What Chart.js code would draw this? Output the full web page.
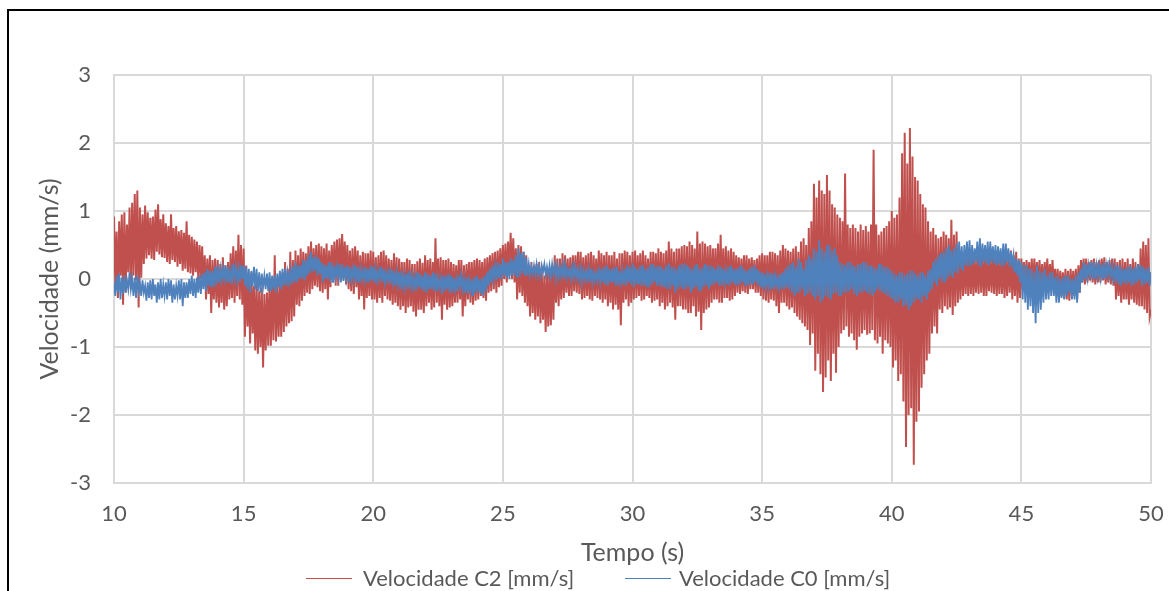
<!DOCTYPE html>
<html>
<head>
<meta charset="utf-8">
<script src="https://cdn.jsdelivr.net/npm/chart.js@4/dist/chart.umd.min.js"></script>
<style>
  html, body { margin: 0; padding: 0; background: #fff; overflow: hidden; }
  #wrap { position: relative; width: 1169px; height: 591px; }
  #frame { position: absolute; left: 7px; top: 9px; width: 1200px; height: 700px; border-left: 2px solid #000; border-top: 2px solid #000; }
  canvas { position: absolute; left: 0; top: 0; }
  .lg { position: absolute; font-family: Lato, "Open Sans", sans-serif; font-size: 22px; color: #595959; line-height: 26px; white-space: nowrap; }
  .ln { position: absolute; height: 1px; width: 46px; }
</style>
</head>
<body>
<div id="wrap">
  <div id="frame"></div>
  <canvas id="c" width="1169" height="591"></canvas>
  <div class="ln" style="left:306px; top:578px; background:#C0504D;"></div>
  <div class="lg" style="left:363px; top:565px;">Velocidade C2 [mm/s]</div>
  <div class="ln" style="left:625px; top:578px; background:#4F81BD;"></div>
  <div class="lg" style="left:679px; top:565px;">Velocidade C0 [mm/s]</div>
</div>
<script>
// Tick labels / axis ranges
const xTicks = [10, 15, 20, 25, 30, 35, 40, 45, 50];
const yTicks = [-3, -2, -1, 0, 1, 2, 3];
const seriesNames = ['Velocidade C2 [mm/s]', 'Velocidade C0 [mm/s]'];

// Velocidade C2 [mm/s], 0.05 s sampling, one row per second (10 s ... 50 s)
const velC2 = [
  0.92, -0.10, 0.70, -0.28, 0.85, 0.05, 0.95, -0.38, 0.98, -0.20, 0.80, 0.10, 1.05, -0.15, 1.12, 0.05, 1.25, -0.02, 1.30, -0.42,
  1.05, 0.02, 0.95, 0.22, 1.08, 0.30, 0.98, 0.35, 0.90, 0.30, 0.92, 0.28, 1.02, 0.40, 1.10, 0.36, 0.88, 0.32, 0.95, 0.31,
  0.82, 0.25, 0.78, 0.22, 0.95, 0.28, 0.75, 0.25, 0.78, 0.18, 0.70, 0.22, 0.72, 0.12, 0.68, 0.15, 0.85, 0.10, 0.65, 0.08,
  0.62, 0.05, 0.58, 0.10, 0.55, -0.02, 0.50, 0.00, 0.48, -0.10, 0.35, -0.30, 0.30, -0.22, 0.35, -0.50, 0.28, -0.30, 0.30, -0.35,
  0.28, -0.42, 0.22, -0.35, 0.32, -0.45, 0.20, -0.40, 0.25, -0.30, 0.38, -0.28, 0.48, -0.35, 0.42, -0.25, 0.65, -0.30, 0.50, -0.38,
  0.45, -0.85, 0.20, -0.70, 0.05, -0.95, 0.10, -0.80, -0.10, -1.05, -0.05, -1.10, -0.18, -1.00, -0.12, -1.30, -0.22, -1.05, -0.20, -0.98,
  -0.05, -0.98, 0.00, -0.90, 0.35, -0.92, -0.08, -0.85, -0.02, -0.85, 0.10, -0.78, 0.25, -0.70, 0.15, -0.65, 0.40, -0.62, 0.28, -0.55,
  0.42, -0.38, 0.35, -0.40, 0.45, -0.32, 0.40, -0.25, 0.38, -0.20, 0.48, -0.22, 0.55, -0.15, 0.45, -0.10, 0.50, -0.12, 0.52, -0.18,
  0.48, -0.20, 0.45, -0.15, 0.52, -0.30, 0.42, -0.12, 0.50, -0.05, 0.55, -0.10, 0.58, -0.10, 0.60, -0.02, 0.66, 0.00, 0.55, -0.08,
  0.50, -0.15, 0.42, -0.18, 0.45, -0.22, 0.48, -0.12, 0.42, -0.30, 0.35, -0.25, 0.40, -0.45, 0.38, -0.28, 0.38, -0.25, 0.42, -0.30,
  0.40, -0.30, 0.32, -0.35, 0.35, -0.28, 0.40, -0.35, 0.42, -0.25, 0.35, -0.30, 0.30, -0.32, 0.28, -0.38, 0.38, -0.35, 0.32, -0.40,
  0.30, -0.45, 0.25, -0.40, 0.25, -0.50, 0.30, -0.42, 0.28, -0.40, 0.22, -0.48, 0.22, -0.55, 0.26, -0.45, 0.30, -0.45, 0.24, -0.50,
  0.35, -0.40, 0.28, -0.35, 0.30, -0.45, 0.25, -0.42, 0.60, -0.35, 0.30, -0.40, 0.32, -0.60, 0.28, -0.38, 0.28, -0.45, 0.30, -0.42,
  0.25, -0.40, 0.22, -0.35, 0.20, -0.35, 0.28, -0.30, 0.28, -0.55, 0.20, -0.40, 0.22, -0.30, 0.25, -0.35, 0.25, -0.38, 0.28, -0.32,
  0.30, -0.30, 0.28, -0.25, 0.25, -0.28, 0.30, -0.32, 0.32, -0.20, 0.35, -0.18, 0.38, -0.15, 0.40, -0.20, 0.42, -0.12, 0.45, -0.10,
  0.50, 0.00, 0.52, -0.05, 0.55, 0.05, 0.68, 0.00, 0.60, -0.05, 0.45, -0.30, 0.50, -0.20, 0.48, -0.25, 0.40, -0.35, 0.35, -0.40,
  0.20, -0.55, 0.25, -0.50, 0.15, -0.60, 0.22, -0.55, 0.25, -0.65, 0.10, -0.60, 0.05, -0.78, 0.12, -0.70, 0.10, -0.68, 0.20, -0.60,
  0.35, -0.35, 0.30, -0.40, 0.30, -0.30, 0.38, -0.28, 0.35, -0.20, 0.30, -0.25, 0.32, -0.25, 0.35, -0.18, 0.35, -0.20, 0.40, -0.22,
  0.40, -0.30, 0.32, -0.28, 0.35, -0.25, 0.38, -0.30, 0.40, -0.32, 0.35, -0.25, 0.30, -0.28, 0.42, -0.30, 0.38, -0.35, 0.35, -0.30,
  0.40, -0.40, 0.35, -0.35, 0.35, -0.45, 0.40, -0.38, 0.30, -0.45, 0.38, -0.68, 0.38, -0.35, 0.42, -0.30, 0.40, -0.40, 0.35, -0.35,
  0.40, -0.30, 0.42, -0.28, 0.35, -0.25, 0.38, -0.32, 0.42, -0.30, 0.35, -0.25, 0.30, -0.28, 0.40, -0.35, 0.40, -0.32, 0.38, -0.30,
  0.45, -0.40, 0.40, -0.35, 0.38, -0.45, 0.42, -0.40, 0.55, -0.35, 0.45, -0.42, 0.40, -0.60, 0.45, -0.40, 0.45, -0.40, 0.48, -0.45,
  0.50, -0.45, 0.48, -0.50, 0.55, -0.50, 0.50, -0.40, 0.45, -0.55, 0.70, -0.48, 0.52, -0.75, 0.55, -0.50, 0.52, -0.45, 0.48, -0.42,
  0.50, -0.35, 0.45, -0.30, 0.45, -0.30, 0.52, -0.35, 0.65, -0.35, 0.45, -0.28, 0.48, -0.28, 0.42, -0.32, 0.45, -0.30, 0.40, -0.25,
  0.35, -0.20, 0.32, -0.22, 0.30, -0.18, 0.35, -0.20, 0.35, -0.22, 0.30, -0.15, 0.32, -0.15, 0.28, -0.20, 0.30, -0.20, 0.35, -0.25,
  0.38, -0.30, 0.35, -0.32, 0.35, -0.35, 0.40, -0.30, 0.40, -0.32, 0.38, -0.40, 0.35, -0.50, 0.42, -0.35, 0.50, -0.35, 0.45, -0.40,
  0.42, -0.45, 0.40, -0.42, 0.45, -0.50, 0.48, -0.55, 0.40, -0.60, 0.55, -0.65, 0.60, -0.70, 0.50, -0.75, 0.75, -0.97, 0.85, -0.80,
  1.40, -1.35, 1.20, -1.10, 1.45, -1.40, 1.30, -1.66, 1.25, -1.45, 1.53, -1.20, 1.30, -1.50, 1.10, -1.10, 1.05, -1.38, 0.95, -1.00,
  0.90, -0.80, 0.85, -0.75, 1.55, -0.70, 0.80, -0.85, 0.75, -0.80, 0.80, -0.90, 0.75, -1.04, 0.70, -0.85, 0.80, -0.80, 0.72, -0.75,
  0.78, -0.82, 0.70, -0.80, 0.80, -0.75, 1.90, -0.90, 0.80, -0.95, 0.65, -0.85, 0.70, -1.10, 0.75, -0.90, 0.78, -0.95, 0.85, -1.00,
  1.00, -1.30, 0.90, -1.20, 0.95, -1.50, 1.20, -1.40, 1.85, -1.80, 2.15, -2.47, 1.70, -2.00, 2.22, -1.90, 1.80, -2.73, 1.50, -2.10,
  1.45, -1.95, 1.25, -1.60, 1.10, -1.40, 1.05, -1.20, 0.85, -1.10, 0.70, -0.80, 0.75, -0.70, 0.65, -0.80, 0.60, -0.45, 0.62, -0.50,
  0.70, -0.40, 0.65, -0.45, 0.60, -0.42, 0.87, -0.53, 0.65, -0.40, 0.70, -0.35, 0.40, -0.30, 0.38, -0.25, 0.35, -0.22, 0.40, -0.25,
  0.38, -0.22, 0.35, -0.25, 0.30, -0.20, 0.32, -0.22, 0.45, -0.20, 0.35, -0.25, 0.35, -0.25, 0.30, -0.18, 0.32, -0.20, 0.35, -0.22,
  0.35, -0.25, 0.30, -0.22, 0.32, -0.22, 0.38, -0.28, 0.30, -0.25, 0.38, -0.20, 0.42, -0.30, 0.35, -0.25, 0.40, -0.35, 0.30, -0.28,
  0.30, -0.15, 0.25, -0.12, 0.28, -0.10, 0.25, -0.18, 0.30, -0.15, 0.30, -0.10, 0.25, -0.12, 0.28, -0.15, 0.22, -0.15, 0.25, -0.10,
  0.30, -0.15, 0.22, -0.10, 0.28, -0.12, 0.15, -0.20, 0.15, -0.30, 0.12, -0.25, 0.10, -0.28, 0.15, -0.30, 0.12, -0.32, 0.15, -0.25,
  0.12, -0.25, 0.15, -0.30, 0.20, -0.20, 0.28, -0.05, 0.30, -0.08, 0.30, -0.05, 0.25, -0.02, 0.28, -0.05, 0.30, -0.08, 0.25, -0.05,
  0.28, -0.05, 0.30, -0.02, 0.32, -0.08, 0.25, -0.05, 0.28, -0.08, 0.30, -0.10, 0.30, -0.30, 0.25, -0.25, 0.28, -0.35, 0.30, -0.30,
  0.25, -0.30, 0.30, -0.38, 0.22, -0.30, 0.30, -0.35, 0.25, -0.38, 0.22, -0.40, 0.45, -0.40, 0.55, -0.45, 0.50, -0.50, 0.60, -0.55,
  -0.45
];

// Velocidade C0 [mm/s], 0.05 s sampling, one row per second (10 s ... 50 s)
const velC0 = [
  -0.05, -0.25, 0.05, -0.20, 0.08, -0.30, 0.02, -0.22, 0.05, -0.20, -0.02, -0.15, 0.10, -0.15, 0.00, -0.25, 0.02, -0.28, 0.05, -0.18,
  -0.05, -0.25, -0.02, -0.20, -0.10, -0.32, -0.05, -0.28, -0.02, -0.30, 0.00, -0.25, -0.08, -0.35, -0.05, -0.30, 0.00, -0.28, -0.08, -0.25,
  -0.05, -0.30, 0.00, -0.25, -0.02, -0.35, -0.08, -0.30, -0.10, -0.25, -0.02, -0.30, 0.00, -0.40, -0.05, -0.28, -0.05, -0.28, 0.00, -0.22,
  0.05, -0.25, 0.00, -0.28, 0.02, -0.20, 0.05, -0.22, 0.08, -0.15, 0.10, -0.18, 0.15, -0.10, 0.12, -0.12, 0.12, -0.12, 0.18, -0.08,
  0.20, -0.05, 0.15, -0.02, 0.15, 0.00, 0.20, -0.05, 0.18, -0.05, 0.12, -0.08, 0.22, 0.02, 0.18, -0.02, 0.15, -0.05, 0.20, 0.00,
  0.20, -0.10, 0.18, -0.15, 0.15, -0.20, 0.12, -0.10, 0.18, -0.15, 0.15, -0.18, 0.10, -0.20, 0.08, -0.12, 0.05, -0.15, 0.08, -0.18,
  0.10, -0.18, 0.05, -0.15, 0.05, -0.20, 0.08, -0.12, 0.12, -0.15, 0.15, -0.10, 0.15, -0.10, 0.10, -0.05, 0.12, -0.08, 0.18, -0.05,
  0.25, -0.05, 0.20, 0.00, 0.20, 0.00, 0.28, -0.02, 0.28, 0.05, 0.35, 0.08, 0.40, 0.10, 0.32, 0.12, 0.35, 0.05, 0.30, 0.08,
  0.25, -0.05, 0.22, 0.00, 0.20, 0.00, 0.25, -0.05, 0.25, -0.05, 0.20, 0.02, 0.18, 0.02, 0.22, -0.05, 0.22, -0.03, 0.18, 0.00,
  0.20, -0.05, 0.18, 0.00, 0.15, 0.00, 0.20, -0.05, 0.18, -0.05, 0.15, 0.00, 0.12, -0.02, 0.18, -0.05, 0.15, -0.05, 0.20, -0.02,
  0.18, -0.06, 0.15, -0.02, 0.12, 0.00, 0.18, -0.05, 0.15, -0.05, 0.10, -0.02, 0.10, -0.08, 0.15, -0.05, 0.12, -0.10, 0.10, -0.08,
  0.10, -0.15, 0.12, -0.10, 0.05, -0.12, 0.08, -0.15, 0.12, -0.10, 0.05, -0.12, 0.02, -0.18, 0.10, -0.12, 0.08, -0.15, 0.05, -0.18,
  0.10, -0.20, 0.08, -0.15, 0.05, -0.15, 0.10, -0.18, 0.08, -0.18, 0.02, -0.12, 0.00, -0.22, 0.05, -0.18, 0.05, -0.15, 0.08, -0.20,
  0.05, -0.20, 0.02, -0.15, 0.00, -0.18, 0.05, -0.12, 0.05, -0.15, 0.00, -0.20, 0.02, -0.22, -0.02, -0.18, 0.00, -0.25, 0.03, -0.20,
  0.05, -0.20, 0.00, -0.22, 0.02, -0.25, 0.05, -0.18, 0.10, -0.10, 0.15, -0.05, 0.20, 0.00, 0.18, -0.02, 0.25, 0.02, 0.22, 0.00,
  0.30, 0.05, 0.25, 0.02, 0.25, 0.00, 0.30, 0.05, 0.28, 0.05, 0.35, 0.02, 0.45, 0.03, 0.38, 0.08, 0.40, 0.05, 0.32, 0.05,
  0.22, 0.05, 0.18, 0.08, 0.20, 0.08, 0.22, 0.05, 0.18, 0.05, 0.20, 0.10, 0.22, 0.07, 0.18, 0.05, 0.20, 0.05, 0.22, 0.08,
  0.20, 0.00, 0.18, 0.03, 0.18, 0.05, 0.20, 0.00, 0.20, 0.02, 0.15, 0.05, 0.15, 0.00, 0.18, 0.02, 0.18, 0.03, 0.15, 0.00,
  0.15, -0.05, 0.12, 0.00, 0.12, 0.00, 0.15, -0.05, 0.15, -0.05, 0.10, -0.02, 0.10, -0.02, 0.12, -0.05, 0.15, -0.05, 0.18, -0.08,
  0.20, -0.10, 0.15, -0.05, 0.15, -0.05, 0.18, -0.10, 0.18, -0.10, 0.12, -0.05, 0.12, -0.08, 0.15, -0.10, 0.20, -0.05, 0.18, -0.08,
  0.23, -0.12, 0.18, -0.08, 0.15, -0.08, 0.20, -0.10, 0.20, -0.10, 0.15, -0.12, 0.18, -0.12, 0.22, -0.08, 0.22, -0.05, 0.18, -0.10,
  0.20, -0.10, 0.18, -0.12, 0.15, -0.12, 0.20, -0.15, 0.23, -0.15, 0.18, -0.10, 0.18, -0.20, 0.15, -0.15, 0.20, -0.12, 0.22, -0.15,
  0.23, -0.15, 0.20, -0.12, 0.18, -0.20, 0.15, -0.15, 0.20, -0.12, 0.22, -0.18, 0.15, -0.18, 0.18, -0.12, 0.22, -0.10, 0.20, -0.15,
  0.20, -0.10, 0.18, -0.08, 0.15, -0.05, 0.20, -0.10, 0.18, -0.10, 0.15, -0.05, 0.12, -0.08, 0.18, -0.10, 0.20, -0.05, 0.15, -0.08,
  0.15, -0.10, 0.18, -0.08, 0.20, -0.05, 0.15, -0.10, 0.12, -0.10, 0.15, -0.08, 0.18, -0.08, 0.20, -0.05, 0.15, -0.10, 0.12, -0.12,
  0.10, -0.15, 0.08, -0.12, 0.05, -0.10, 0.10, -0.15, 0.08, -0.15, 0.05, -0.10, 0.02, -0.12, 0.08, -0.15, 0.10, -0.15, 0.15, -0.12,
  0.20, -0.15, 0.22, -0.20, 0.25, -0.25, 0.18, -0.20, 0.30, -0.20, 0.25, -0.15, 0.15, -0.25, 0.28, -0.22, 0.35, -0.20, 0.30, -0.25,
  0.45, -0.30, 0.40, -0.25, 0.57, -0.35, 0.45, -0.30, 0.40, -0.25, 0.50, -0.28, 0.50, -0.30, 0.42, -0.22, 0.45, -0.20, 0.35, -0.25,
  0.25, -0.25, 0.22, -0.20, 0.20, -0.20, 0.25, -0.18, 0.25, -0.15, 0.20, -0.22, 0.18, -0.25, 0.22, -0.20, 0.22, -0.20, 0.25, -0.18,
  0.25, -0.20, 0.20, -0.22, 0.20, -0.25, 0.18, -0.20, 0.15, -0.15, 0.22, -0.18, 0.22, -0.20, 0.18, -0.22, 0.18, -0.25, 0.15, -0.28,
  0.12, -0.30, 0.08, -0.35, 0.05, -0.35, 0.10, -0.30, 0.10, -0.40, 0.05, -0.38, 0.08, -0.45, 0.12, -0.40, 0.12, -0.35, 0.08, -0.30,
  0.05, -0.30, 0.10, -0.35, 0.10, -0.25, 0.05, -0.30, 0.12, -0.20, 0.15, -0.15, 0.25, -0.05, 0.30, -0.10, 0.35, 0.00, 0.38, -0.05,
  0.40, -0.05, 0.45, 0.00, 0.50, 0.05, 0.42, 0.02, 0.45, 0.10, 0.52, 0.08, 0.55, 0.15, 0.48, 0.12, 0.50, 0.20, 0.55, 0.18,
  0.57, 0.20, 0.50, 0.22, 0.45, 0.25, 0.55, 0.20, 0.60, 0.18, 0.52, 0.25, 0.50, 0.22, 0.55, 0.20, 0.55, 0.25, 0.48, 0.22,
  0.50, 0.20, 0.48, 0.22, 0.45, 0.18, 0.52, 0.20, 0.52, 0.25, 0.45, 0.18, 0.40, 0.20, 0.35, 0.10, 0.30, 0.05, 0.28, -0.05,
  0.25, -0.30, 0.20, -0.35, 0.20, -0.45, 0.15, -0.40, 0.15, -0.50, 0.10, -0.65, 0.20, -0.50, 0.12, -0.45, 0.10, -0.35, 0.15, -0.30,
  0.05, -0.30, 0.10, -0.25, 0.10, -0.25, 0.02, -0.35, 0.05, -0.35, 0.00, -0.28, 0.02, -0.30, 0.05, -0.25, 0.05, -0.20, 0.00, -0.30,
  0.00, -0.30, 0.05, -0.35, 0.10, -0.20, 0.15, -0.05, 0.25, 0.00, 0.22, 0.02, 0.20, 0.05, 0.25, 0.00, 0.25, 0.00, 0.20, 0.03,
  0.20, 0.02, 0.22, 0.00, 0.25, 0.00, 0.20, 0.05, 0.22, 0.05, 0.18, 0.00, 0.15, -0.05, 0.20, -0.08, 0.20, -0.10, 0.15, -0.05,
  0.15, -0.08, 0.18, -0.05, 0.20, -0.10, 0.15, -0.08, 0.18, -0.05, 0.22, -0.02, 0.20, -0.10, 0.18, -0.08, 0.15, -0.05, 0.18, -0.10,
  0.10
];

// Time axis (s): regular 0.05 s sampling starting at 10 s
const tempo = velC2.map((_, i) => Math.round((10 + i * 0.05) * 100) / 100);

const FONT = 'Lato, "Open Sans", sans-serif';
const TXT = '#595959';
const GRID = '#D9D9D9';

const toXY = arr => arr.map((v, i) => ({ x: tempo[i], y: v }));

new Chart(document.getElementById('c'), {
  type: 'line',
  data: {
    datasets: [
      { label: seriesNames[1], data: toXY(velC0), borderColor: '#4F81BD', backgroundColor: '#4F81BD', borderWidth: 1.8, pointRadius: 0, tension: 0 },
      { label: seriesNames[0], data: toXY(velC2), borderColor: '#C0504D', backgroundColor: '#C0504D', borderWidth: 2, pointRadius: 0, tension: 0 }
    ]
  },
  options: {
    responsive: false,
    animation: false,
    events: [],
    layout: { padding: { left: 0, right: 18, top: 75, bottom: 23 } },
    plugins: { legend: { display: false }, tooltip: { enabled: false } },
    scales: {
      x: {
        type: 'linear',
        min: xTicks[0], max: xTicks[xTicks.length - 1],
        afterBuildTicks: s => { s.ticks = xTicks.map(v => ({ value: v })); },
        afterFit: s => { s.height = 85; s.paddingLeft = 0; s.paddingRight = 0; },
        grid: { color: GRID, lineWidth: 2, drawTicks: false },
        border: { color: GRID, width: 2 },
        ticks: { padding: 18, color: TXT, font: { family: FONT, size: 22 } },
        title: { display: true, text: 'Tempo (s)', color: TXT, font: { family: FONT, size: 25 }, padding: { top: 0, bottom: 0 } }
      },
      y: {
        type: 'linear',
        min: yTicks[0], max: yTicks[yTicks.length - 1],
        afterBuildTicks: s => { s.ticks = yTicks.map(v => ({ value: v })); },
        afterFit: s => { s.width = 114; s.paddingTop = 0; s.paddingBottom = 0; },
        grid: { color: GRID, lineWidth: 2, drawTicks: false },
        border: { color: GRID, width: 2 },
        ticks: { padding: 23, color: TXT, font: { family: FONT, size: 22 } },
        title: { display: true, text: 'Velocidade (mm/s)', color: TXT, font: { family: FONT, size: 25 }, padding: { top: 35, bottom: 0 } }
      }
    }
  }
});
</script>
</body>
</html>
